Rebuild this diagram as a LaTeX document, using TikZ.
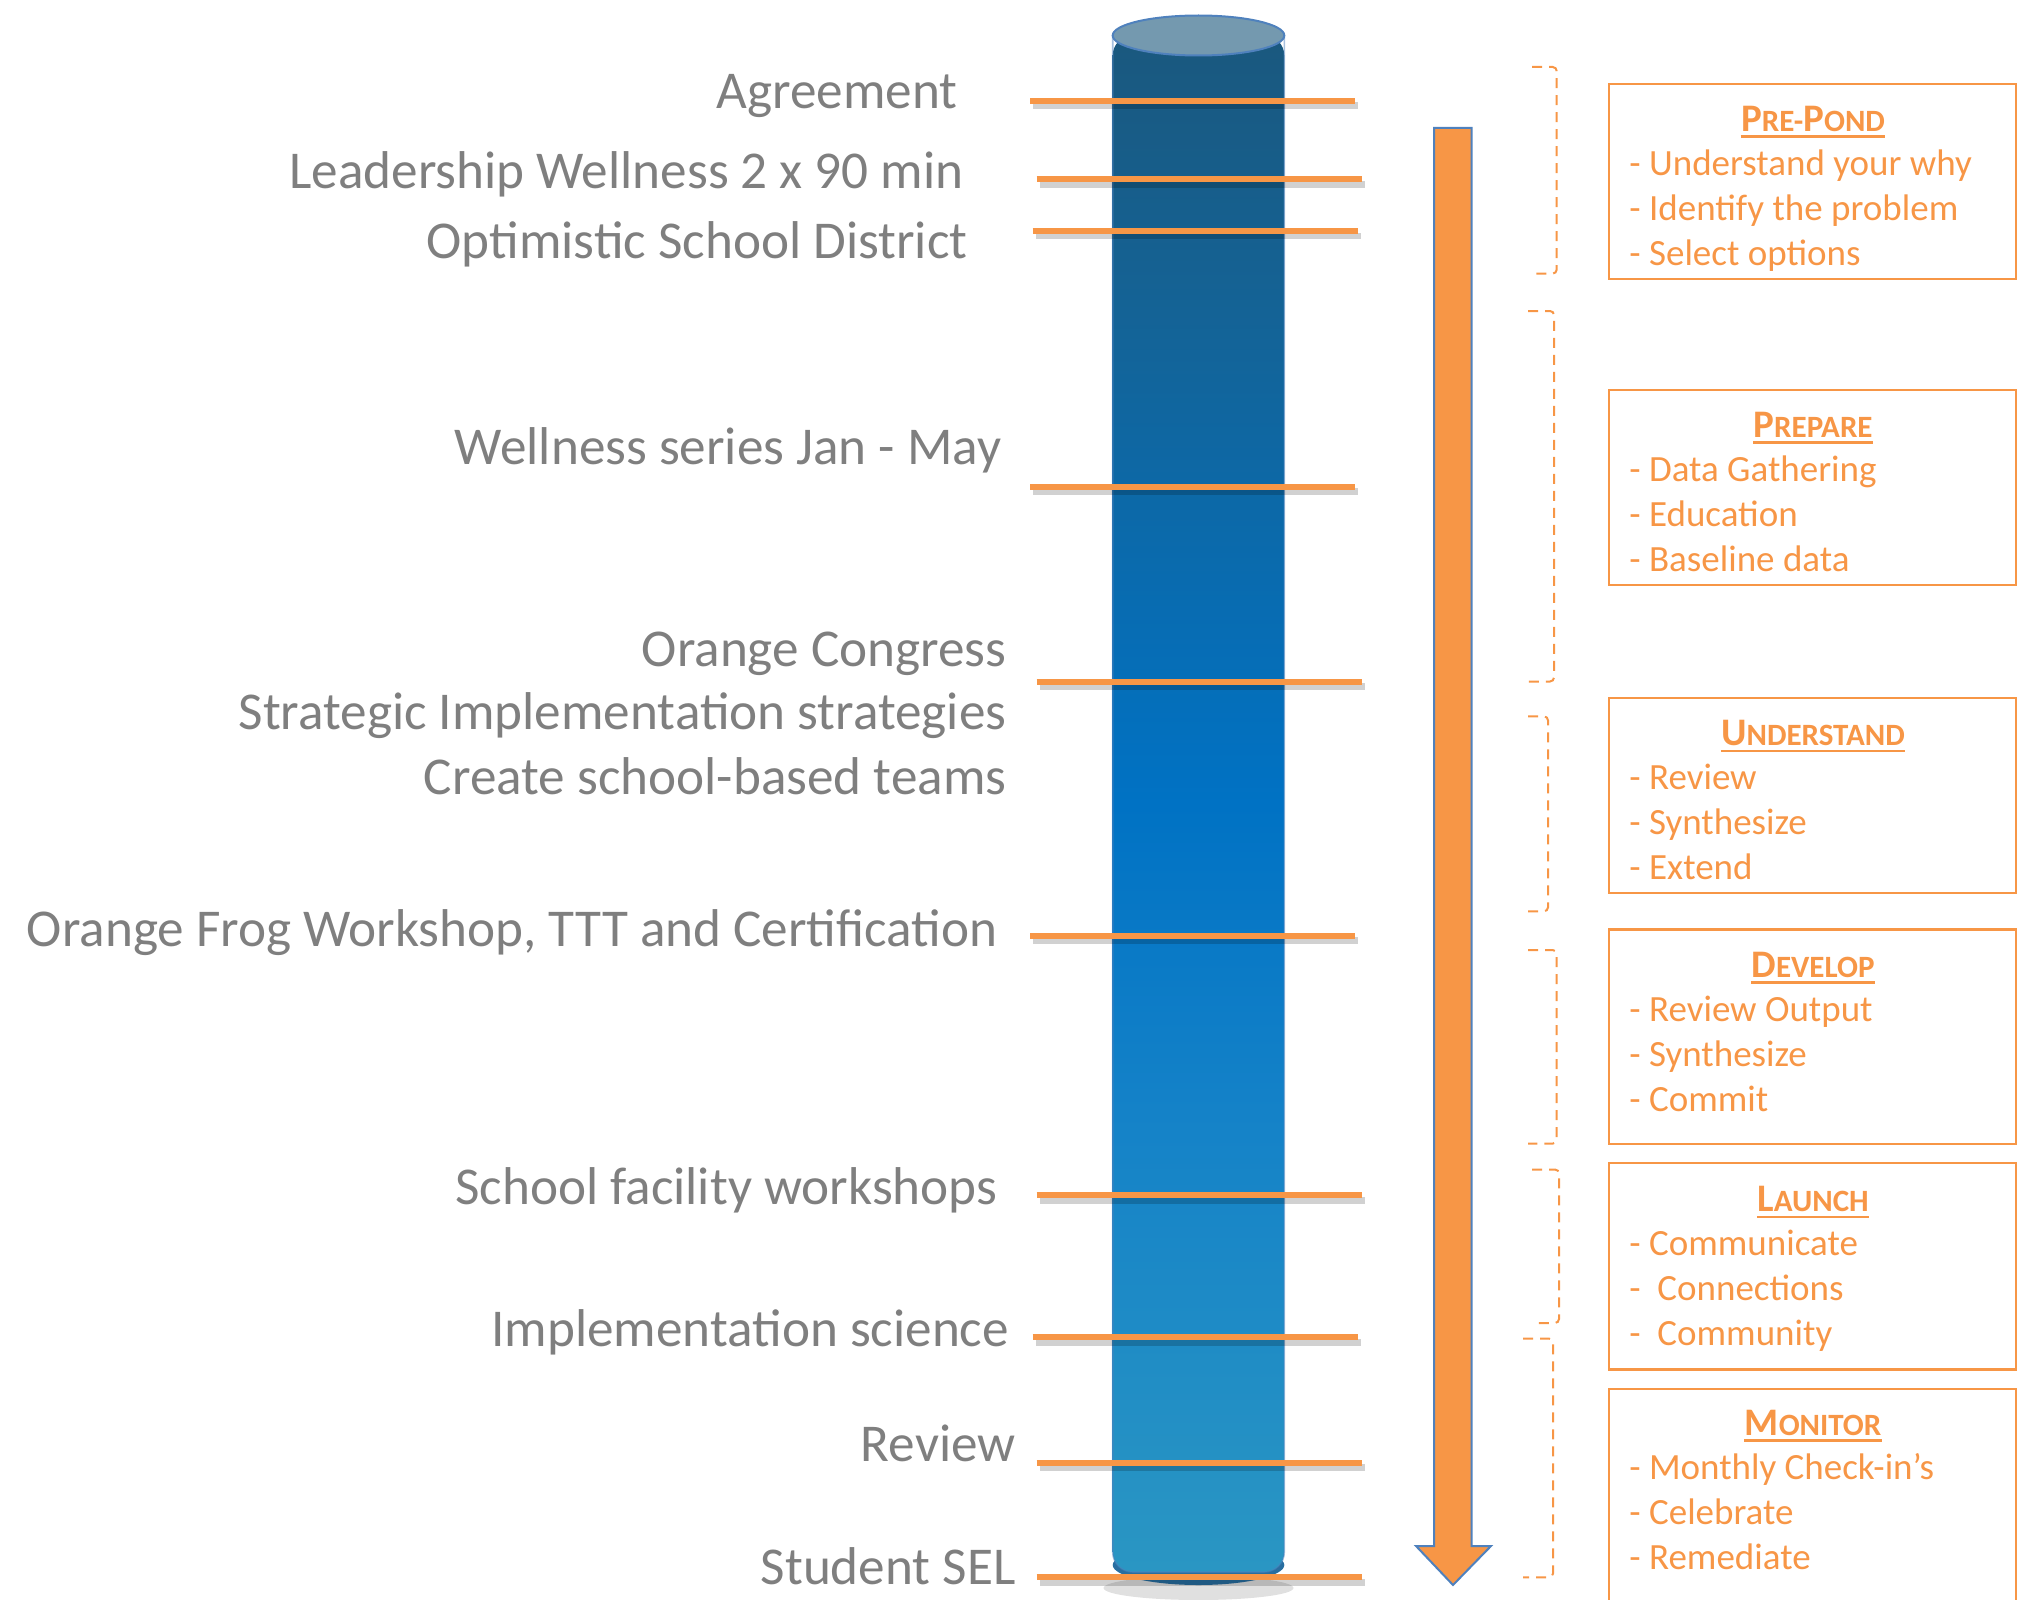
\documentclass[tikz,border=0pt]{standalone}
\usepackage{fontspec}
\setmainfont{Carlito}
\usetikzlibrary{arrows.meta,calc}
\definecolor{tangerine}{RGB}{247,150,70}
\definecolor{slate}{RGB}{127,127,127}
\definecolor{steel}{RGB}{79,129,189}
\definecolor{lid}{RGB}{116,153,175}
\definecolor{basin}{RGB}{40,110,160}
% pillar colours, bottom to top (inner 25bp--75bp fills the path)
\pgfdeclareverticalshading{pillar}{100bp}{
  color(0bp)=(rgb,255:red,42;green,150;blue,195);
  color(25bp)=(rgb,255:red,42;green,150;blue,195);
  color(40bp)=(rgb,255:red,20;green,130;blue,200);
  color(50bp)=(rgb,255:red,0;green,114;blue,196);
  color(66bp)=(rgb,255:red,20;green,99;blue,150);
  color(75bp)=(rgb,255:red,26;green,88;blue,126);
  color(100bp)=(rgb,255:red,26;green,88;blue,126)}
\tikzset{
  event/.style={anchor=base east,text=slate,inner sep=0pt,
    font=\fontsize{26.6}{30}\selectfont},
  milestone/.style={draw=tangerine,line width=3pt},
  milestone shadow/.style={draw=black,opacity=0.18,line width=3.4pt},
  stage/.style={draw=tangerine,line width=1.1pt},
  bracket/.style={draw=tangerine,line width=1pt,dash pattern=on 5pt off 3.5pt,
    rounded corners=2pt},
  head/.style={anchor=base,text=tangerine,inner sep=0pt,
    font=\bfseries\fontsize{15.5}{18}\selectfont},
  entry/.style={anchor=base west,text=tangerine,inner sep=0pt,
    font=\fontsize{18.5}{22}\selectfont},
}
% first letter large, the rest in small capitals
\newcommand\initcap[2]{{\fontsize{19.5}{20}\selectfont #1}#2}

\begin{document}
\begin{tikzpicture}[x=0.5pt,y=-0.5pt]
  \useasboundingbox (0,0) rectangle (2024,1600);

  % the pillar
  \fill[black,opacity=0.12] (1198.5,1588) ellipse [x radius=95,y radius=12];
  \fill[basin] (1198.5,1565) ellipse [x radius=85.8,y radius=20];
  \shade[shading=pillar,rounded corners=10pt]
    (1112.7,35.5) -- (1112.7,1572) -- (1284.3,1572) -- (1284.3,35.5) -- cycle;
  \draw[steel,opacity=0.5,line width=0.8pt,rounded corners=10pt]
    (1112.7,35.5) -- (1112.7,1572) -- (1284.3,1572) -- (1284.3,35.5);
  \draw[fill=lid,draw=steel,line width=1pt] (1198.5,35.5) ellipse [x radius=85.8,y radius=20];

  % milestones across the pillar
  \foreach \y/\xa in {100.7/1030,179.4/1036.5,231/1032.6,486.6/1030,681.5/1036.5,
      935.8/1030,1195.3/1036.5,1337.3/1032.6,1462.5/1036.5,1577.4/1036.5}{
    \draw[milestone shadow] (\xa+3,\y+5) -- (\xa+328,\y+5);
    \draw[milestone] (\xa,\y) -- (\xa+325,\y);
  }

  % milestone labels
  \foreach \nm/\x/\y/\txt in {agree/957.8/108.6/Agreement,
      lead/964/188.7/Leadership Wellness 2 x 90 min,
      district/968/258.4/Optimistic School District,
      series/1001.7/464.9/Wellness series Jan - May,
      congress/1006.8/666.3/Orange Congress,
      strategic/1006.8/729.5/Strategic Implementation strategies,
      teams/1006.8/794/Create school-based teams,
      frog/997.8/946.4/{Orange Frog Workshop, TTT and Certification},
      facility/997.8/1204.5/School facility workshops,
      science/1009.4/1346.5/Implementation science,
      review/1015.9/1461.4/Review,
      sel/1015.9/1584/Student SEL}
    \node[event] (\nm) at (\x,\y) {\txt};

  % time arrow
  \draw[fill=tangerine,draw=steel,line width=1pt]
    (1434,128) -- (1471.5,128) -- (1471.5,1546) -- (1491,1546) -- (1453,1585)
    -- (1416,1546) -- (1434,1546) -- cycle;

  % dashed brackets
  \foreach \xl/\xr/\yt/\yb in {1532/1556.7/67/273.6,1528/1554/311/681.5,
      1528/1548/716.4/911.3,1528/1556.7/950/1143.6,1532/1559/1169.5/1323,
      1523/1553/1338.6/1577.4}
    \draw[bracket] (\xl,\yt) -- (\xr,\yt) -- (\xr,\yb) -- (\xl,\yb);

  % stage boxes
  \begin{scope}
    \clip (0,0) rectangle (2024,1600);
    \foreach \yt/\yb in {83.9/278.8,389.8/584.7,698.3/893.2,929.4/1143.6,
        1163/1369.5,1388.9/1620}
      \draw[stage] (1609,\yt) rectangle (2016,\yb);
  \end{scope}

  \foreach \nm/\tb/\ttl/\items in {
      prepond/131.5/{\initcap{P}{RE-}\initcap{P}{OND}}/{- Understand your why,- Identify the problem,- Select options},
      prepare/437.4/{\initcap{P}{REPARE}}/{- Data Gathering,- Education,- Baseline data},
      understand/745.9/{\initcap{U}{NDERSTAND}}/{- Review,- Synthesize,- Extend},
      develop/977/{\initcap{D}{EVELOP}}/{- Review Output,- Synthesize,- Commit},
      launch/1211.8/{\initcap{L}{AUNCH}}/{- Communicate,-\ \ Connections,-\ \ Community},
      monitor/1435.2/{\initcap{M}{ONITOR}}/{- Monthly Check-in’s,- Celebrate,- Remediate}}{
    \node[head] (\nm) at (1813,\tb) {\ttl};
    \draw[tangerine,line width=1.3pt] ([yshift=-2.6pt]\nm.base west) -- ([yshift=-2.6pt]\nm.base east);
    \foreach \entry [count=\k] in \items
      \node[entry] (\nm-\k) at (1629,{\tb+44+45*(\k-1)}) {\entry};
  }
\end{tikzpicture}
\end{document}
